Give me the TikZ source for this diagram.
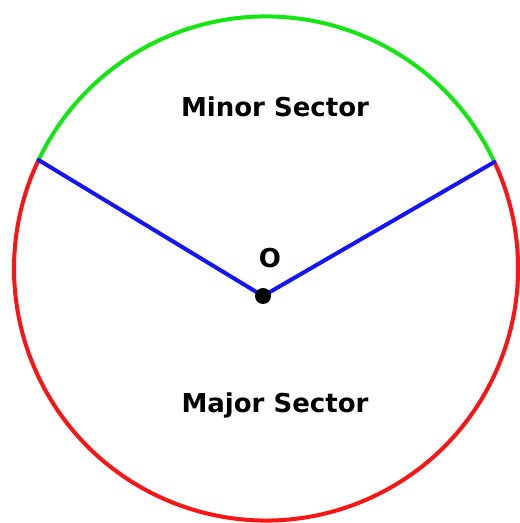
\documentclass[tikz,border=0pt]{standalone}
\usepackage{fontspec}
\setmainfont{DejaVu Sans}
\usetikzlibrary{calc}
\definecolor{minorgreen}{RGB}{20,230,20}
\definecolor{majorred}{RGB}{250,20,20}
\definecolor{radiusblue}{RGB}{20,20,245}
\begin{document}
\begin{tikzpicture}[x=0.5pt,y=0.5pt,line cap=round,line join=round,
  sectorlabel/.style={font=\fontsize{13}{15}\selectfont\bfseries,inner sep=0pt}]
\useasboundingbox (0,0) rectangle (519,523);
% circle and radii
\coordinate (C) at (266,254.5);
\coordinate (O) at (263,227);
\coordinate (A) at ($(C)+(154.5:252)$);
\coordinate (B) at ($(C)+(25:252)$);
\draw[majorred,line width=2pt] (B) arc[start angle=25,end angle=-205.5,radius=252];
\draw[minorgreen,line width=2pt] (B) arc[start angle=25,end angle=154.5,radius=252];
\draw[radiusblue,line width=2pt] (A) -- (O) -- (B);
\fill (O) circle (8);
% labels
\node[sectorlabel] (olabel) at (270,265) {O};
\node[sectorlabel] (minor) at (275,416) {Minor Sector};
\node[sectorlabel] (major) at (275,118) {Major Sector};
\end{tikzpicture}
\end{document}
